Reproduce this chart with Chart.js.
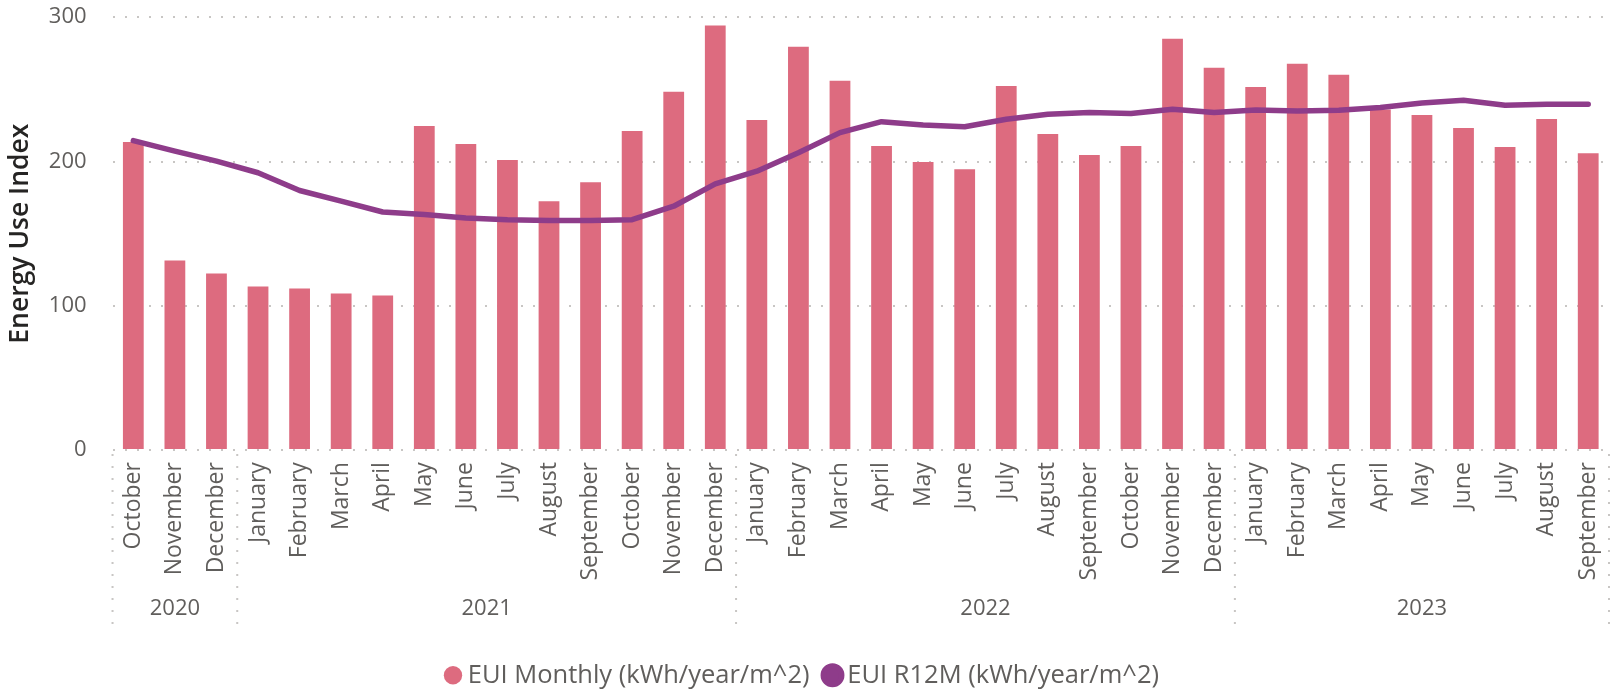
<!DOCTYPE html>
<html>
<head>
<meta charset="utf-8">
<script src="https://cdn.jsdelivr.net/npm/chart.js@4.4.0/dist/chart.umd.min.js"></script>
<style>
  html, body { margin: 0; padding: 0; background: #ffffff; }
  #wrap { width: 1621px; height: 691px; position: relative; }
</style>
</head>
<body>
<div id="wrap"><canvas id="c" width="1621" height="691"></canvas></div>
<script>
const months = ['October','November','December',
  'January','February','March','April','May','June','July','August','September','October','November','December',
  'January','February','March','April','May','June','July','August','September','October','November','December',
  'January','February','March','April','May','June','July','August','September'];
const yearLabels = ['2020','2021','2022','2023'];
const yearSpans = [3, 12, 12, 9];
const euiMonthly = [213.5, 131.4, 122.4,
  113.4, 112.0, 108.5, 107.1, 224.6, 212.1, 201.0, 172.5, 185.7, 221.1, 248.3, 294.2,
  228.8, 279.6, 255.9, 210.7, 199.6, 194.7, 252.4, 219.1, 204.5, 210.7, 285.1, 265.0,
  251.7, 267.7, 260.1, 236.0, 232.3, 223.2, 210.0, 229.5, 205.8];
const euiR12M = [214.5, 207.2, 200.3,
  192.2, 179.9, 172.5, 165.0, 163.2, 160.9, 159.7, 159.2, 159.2, 159.7, 169.0, 184.5,
  193.3, 206.0, 220.0, 227.6, 225.3, 224.1, 229.3, 232.7, 233.9, 233.2, 236.2, 233.9,
  235.7, 235.0, 235.5, 237.4, 240.6, 242.5, 239.0, 239.7, 239.7];
const yTicks = [0, 100, 200, 300];

const FONT = "'Open Sans', 'Noto Sans', sans-serif";
const TXT = '#605E5C';

const yearRow = {
  id: 'yearRow',
  afterDraw(chart) {
    const x = chart.scales.x, ctx = chart.ctx, area = chart.chartArea;
    const half = (x.getPixelForTick(1) - x.getPixelForTick(0)) / 2;
    const top = area.bottom + 4, bottom = area.bottom + 180;
    ctx.save();
    ctx.strokeStyle = '#C8C6C4';
    ctx.lineWidth = 2;
    const drawSep = (px) => {
      ctx.setLineDash([2, 10]);
      ctx.beginPath(); ctx.moveTo(px, top); ctx.lineTo(px, bottom); ctx.stroke();
      ctx.setLineDash([]);
    };
    let start = 0;
    drawSep(x.getPixelForTick(0) - half);
    ctx.fillStyle = TXT;
    ctx.font = "22px " + FONT;
    ctx.textAlign = 'center';
    ctx.textBaseline = 'middle';
    yearSpans.forEach((n, i) => {
      const l = x.getPixelForTick(start) - half;
      const r = x.getPixelForTick(start + n - 1) + half;
      ctx.fillText(yearLabels[i], (l + r) / 2, area.bottom + 159);
      drawSep(r);
      start += n;
    });
    ctx.restore();
  }
};

new Chart(document.getElementById('c'), {
  data: {
    labels: months,
    datasets: [
      {
        type: 'bar',
        label: 'EUI Monthly (kWh/year/m^2)',
        data: euiMonthly,
        backgroundColor: '#DD6B7F',
        borderWidth: 0,
        categoryPercentage: 1.0,
        barPercentage: 0.5,
        order: 2
      },
      {
        type: 'line',
        label: 'EUI R12M (kWh/year/m^2)',
        data: euiR12M,
        borderColor: '#8E3C8A',
        backgroundColor: '#8E3C8A',
        borderWidth: 5.5,
        pointRadius: 0,
        tension: 0,
        borderJoinStyle: 'round',
        borderCapStyle: 'round',
        order: 1
      }
    ]
  },
  options: {
    responsive: false,
    animation: false,
    layout: { padding: { top: 0, right: 12, left: 1, bottom: -7 } },
    plugins: {
      tooltip: { enabled: false },
      legend: {
        position: 'bottom',
        labels: {
          usePointStyle: true,
          pointStyle: 'circle',
          boxWidth: 4,
          boxHeight: 13,
          padding: 21,
          color: TXT,
          font: { family: FONT, size: 25.5 },
          sort: (a, b) => a.datasetIndex - b.datasetIndex
        }
      }
    },
    scales: {
      x: {
        offset: true,
        grid: { display: true, drawOnChartArea: false, drawTicks: true, tickLength: 10, tickColor: 'rgba(0,0,0,0)', color: 'rgba(0,0,0,0)' },
        border: { display: false },
        ticks: {
          color: TXT,
          font: { family: FONT, size: 23 },
          minRotation: 90,
          maxRotation: 90,
          autoSkip: false,
          padding: 2
        },
        afterFit(scale) { scale.height = scale.height + 59; }
      },
      y: {
        min: 0,
        max: 300,
        afterBuildTicks(scale) { scale.ticks = yTicks.map(v => ({ value: v })); },
        grid: { color: '#C8C6C4', lineWidth: 2, drawTicks: true, tickLength: 22, tickColor: 'rgba(0,0,0,0)' },
        border: { display: false, dash: [2, 10] },
        ticks: {
          color: TXT,
          font: { family: FONT, size: 22 },
          padding: 4
        },
        title: {
          display: true,
          text: 'Energy Use Index',
          color: '#252423',
          font: { family: FONT, size: 26.5, weight: '600' },
          padding: { top: 4, bottom: 8 }
        }
      }
    }
  },
  plugins: [yearRow]
});
</script>
</body>
</html>
